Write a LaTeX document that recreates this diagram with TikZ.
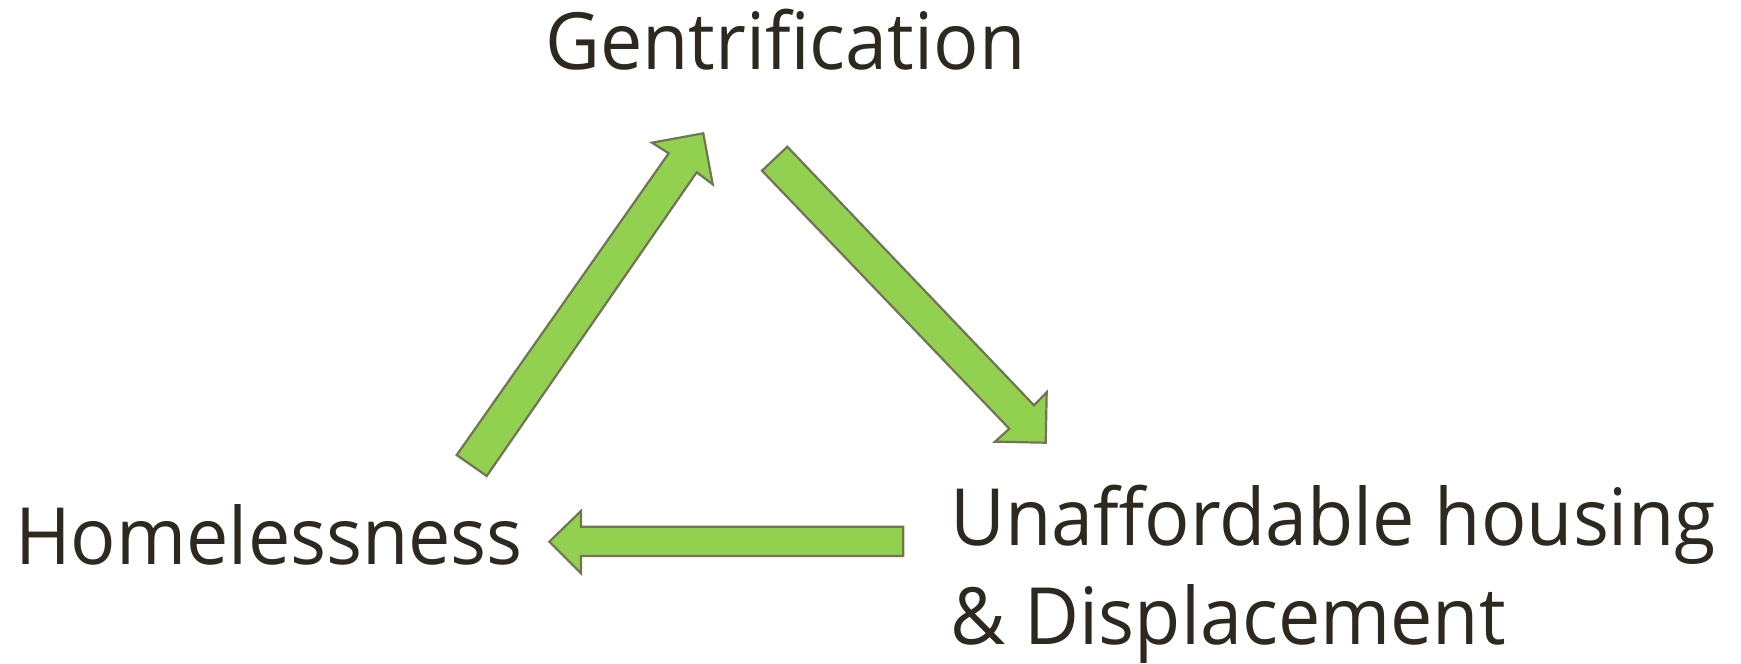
\documentclass[tikz,border=0pt]{standalone}
\usepackage{fontspec}
\setmainfont[FakeStretch=0.955]{Open Sans}
\definecolor{arrowfill}{HTML}{92D050}
\definecolor{arrowline}{RGB}{115,115,85}
\definecolor{txt}{RGB}{45,41,30}
\begin{document}
\begin{tikzpicture}[x=1pt,y=-1pt,
  blockarrow/.style={fill=arrowfill,draw=arrowline,line width=2.2pt,line join=miter},
  lbl/.style={anchor=base west,inner sep=0pt,text=txt,font=\fontsize{79}{99}\selectfont}]
\useasboundingbox (0,0) rectangle (1741,664);
% labels
\node[lbl] (gen) at (545,69) {Gentrification};
\node[lbl] (home) at (15,564) {Homelessness};
\node[lbl] (unaff) at (950,545) {Unaffordable housing};
\node[lbl] (disp) at (950,644) {\& Displacement};
% arrow: Homelessness -> Gentrification
\coordinate (a1t) at (703.3,133.3);
\draw[blockarrow] (456.7,455) -- (668.7,153.3) -- (652,142.7) -- (a1t) -- (712.7,184.3) -- (696.7,172.3) -- (486.7,476) -- cycle;
% arrow: Gentrification -> Unaffordable housing
\coordinate (a2t) at (1045.7,442.7);
\draw[blockarrow] (787.3,146.7) -- (1034,405.3) -- (1046.7,392.3) -- (a2t) -- (995,441.7) -- (1009.3,428.7) -- (762,170.7) -- cycle;
% arrow: Unaffordable housing -> Homelessness
\coordinate (a3t) at (549.3,541.7);
\draw[blockarrow] (903.3,526.7) -- (581,526.7) -- (581,511) -- (a3t) -- (581,573.3) -- (581,556) -- (903.3,556) -- cycle;
\end{tikzpicture}
\end{document}
